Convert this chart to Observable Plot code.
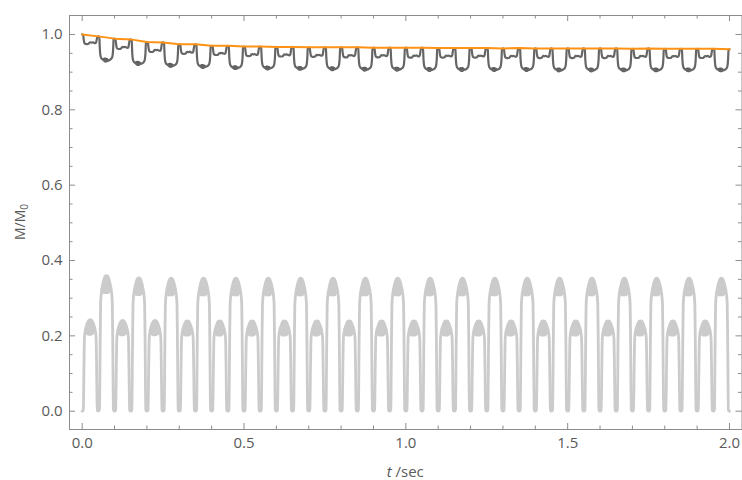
<!DOCTYPE html>
<html><head><meta charset="utf-8">
<script src="https://cdn.jsdelivr.net/npm/d3@7"></script>
<script src="https://cdn.jsdelivr.net/npm/@observablehq/plot@0.6"></script>
<style>body{margin:0;background:#fff}</style>
</head><body><div id="chart"></div>
<script>
// ---------- data ----------
const periodStarts = [0.0,0.1,0.2,0.3,0.4,0.5,0.6,0.7,0.8,0.9,1.0,1.1,1.2,1.3,1.4,1.5,1.6,1.7,1.8,1.9];
const halfPeriod = 0.05;

// light grey pulses: peak heights per period
const shortPeak = [0.243,0.241,0.241,0.240,0.240,0.240,0.240,0.240,0.240,0.240,0.240,0.240,0.240,0.240,0.240,0.240,0.240,0.240,0.240,0.240];
const tallPeak  = [0.360,0.354,0.353,0.353,0.353,0.353,0.353,0.353,0.353,0.353,0.353,0.353,0.353,0.353,0.353,0.353,0.353,0.353,0.353,0.353];

// dark grey curve: dip levels per period
const shallowLevel = [0.975,0.962,0.954,0.949,0.946,0.943,0.942,0.941,0.940,0.940,0.939,0.939,0.939,0.938,0.938,0.938,0.938,0.938,0.938,0.938];
const deepLevel    = [0.930,0.921,0.916,0.913,0.910,0.909,0.908,0.907,0.906,0.906,0.905,0.905,0.905,0.905,0.904,0.904,0.904,0.904,0.904,0.904];

// orange envelope
const envT = [0.00,0.05,0.10,0.15,0.20,0.25,0.30,0.35,0.40,0.45,0.50,0.55,0.60,0.65,0.70,0.75,0.80,0.85,0.90,0.95,1.00,
              1.05,1.10,1.15,1.20,1.25,1.30,1.35,1.40,1.45,1.50,1.55,1.60,1.65,1.70,1.75,1.80,1.85,1.90,1.95,2.00];
const envM = [1.000,0.995,0.989,0.987,0.980,0.979,0.974,0.974,0.970,0.970,0.968,0.968,0.967,0.967,0.966,0.966,0.966,0.966,0.965,0.965,0.965,
              0.965,0.964,0.964,0.964,0.964,0.963,0.964,0.963,0.963,0.963,0.963,0.963,0.963,0.962,0.963,0.962,0.962,0.962,0.962,0.961];

// pulse profile (fraction of half period, fraction of peak)
const pulseShape = [[0,0],[0.07,0.01],[0.11,0.5],[0.14,0.8],[0.19,0.88],[0.26,0.93],[0.34,0.97],[0.42,0.995],[0.5,1],
                    [0.58,0.995],[0.66,0.97],[0.74,0.93],[0.81,0.88],[0.86,0.8],[0.89,0.5],[0.93,0.01],[1,0]];
// noisy caps on the pulses: [fraction, low, high]
const shortCap = [[0.18,0.86,0.87],[0.23,0.84,0.91],[0.30,0.83,0.955],[0.40,0.82,0.99],[0.5,0.82,1.0],[0.60,0.82,0.99],[0.70,0.83,0.955],[0.77,0.84,0.91],[0.82,0.86,0.87]];
const tallCap  = [[0.18,0.87,0.87],[0.23,0.875,0.91],[0.30,0.865,0.955],[0.40,0.86,0.99],[0.5,0.86,1.0],[0.60,0.86,0.99],[0.70,0.865,0.955],[0.77,0.875,0.91],[0.82,0.87,0.87]];

// dark dips profile (fraction of half period, fraction of depth)
const shallowShape = [[0,0],[0.06,0.05],[0.10,0.6],[0.14,0.92],[0.20,1.0],[0.30,1.02],[0.40,0.98],[0.45,0.85],[0.5,0.8],[0.58,0.83],
                      [0.65,0.79],[0.72,0.85],[0.80,0.9],[0.86,0.8],[0.90,0.4],[0.94,0.05],[1,0]];
const deepShape = [[0,0],[0.06,0.05],[0.09,0.5],[0.12,0.75],[0.16,0.86],[0.22,0.92],[0.30,0.96],[0.40,0.99],[0.5,1],
                   [0.60,0.99],[0.70,0.96],[0.78,0.92],[0.84,0.86],[0.88,0.75],[0.91,0.5],[0.94,0.05],[1,0]];
const deepCap = [[0.26,0.94,0.94],[0.34,1.04,0.9],[0.42,1.09,0.88],[0.52,1.1,0.88],[0.60,1.07,0.9],[0.68,0.96,0.95]];

// axes
const xTicks = [0, 0.5, 1, 1.5, 2];
const xTickLabels = ["0.0","0.5","1.0","1.5","2.0"];
const xMinor = [0.1,0.2,0.3,0.4,0.6,0.7,0.8,0.9,1.1,1.2,1.3,1.4,1.6,1.7,1.8,1.9];
const yTicks = [0, 0.2, 0.4, 0.6, 0.8, 1.0];
const yTickLabels = ["0.0","0.2","0.4","0.6","0.8","1.0"];
const yMinor = [0.05,0.1,0.15,0.25,0.3,0.35,0.45,0.5,0.55,0.65,0.7,0.75,0.85,0.9,0.95];

// ---------- build tables ----------
const light = [], lightCaps = [], dark = [], darkCaps = [];
periodStarts.forEach((t0, k) => {
  const pulses = [[t0, shortPeak[k], shortCap, "s"], [t0 + halfPeriod, tallPeak[k], tallCap, "t"]];
  pulses.forEach(([s, A, cap, tag]) => {
    pulseShape.forEach(([f, v]) => light.push({t: s + f * halfPeriod, m: A * v}));
    cap.forEach(([f, lo, hi]) => lightCaps.push({id: tag + k, t: s + f * halfPeriod, lo: A * lo, hi: A * hi}));
  });
  const p0 = envM[2 * k], p1 = envM[2 * k + 1], p2 = envM[2 * k + 2];
  shallowShape.forEach(([f, d]) => {
    const base = f < 0.5 ? p0 : p1;
    dark.push({t: t0 + f * halfPeriod, m: base - d * (base - shallowLevel[k])});
  });
  deepShape.forEach(([f, d]) => {
    const base = f < 0.5 ? p1 : p2;
    dark.push({t: t0 + halfPeriod + f * halfPeriod, m: base - d * (base - deepLevel[k])});
  });
  deepCap.forEach(([f, lo, hi]) => {
    const base = f < 0.5 ? p1 : p2;
    darkCaps.push({id: "d" + k, t: t0 + halfPeriod + f * halfPeriod,
                   lo: base - lo * (base - deepLevel[k]), hi: base - hi * (base - deepLevel[k])});
  });
});
const envelope = envT.map((t, i) => ({t, m: envM[i]}));

const W = 742, H = 480, mL = 69, mR = 0.5, mT = 15, mB = 51;
const innerW = W - mL - mR, innerH = H - mT - mB;
const frameColor = "#8c8c8c";
const labelColor = "#5a5a5a";
const majorLen = 6, minorLen = 3.5;

const svg = Plot.plot({
  width: W, height: H,
  marginLeft: mL, marginRight: mR, marginTop: mT, marginBottom: mB,
  x: {domain: [-0.0392, 2.0386]},
  y: {domain: [-0.0486, 1.0504]},
  style: {fontFamily: "'Open Sans', 'DejaVu Sans', sans-serif", fontSize: "15px", color: labelColor, background: "#fff"},
  marks: [
    Plot.areaY(lightCaps, {x: "t", y1: "lo", y2: "hi", z: "id", fill: "#cbcbcb", curve: "catmull-rom"}),
    Plot.line(light, {x: "t", y: "m", stroke: "#cbcbcb", strokeWidth: 2.8, curve: "monotone-x"}),
    Plot.areaY(darkCaps, {x: "t", y1: "lo", y2: "hi", z: "id", fill: "#5e5e5e", curve: "catmull-rom"}),
    Plot.line(dark, {x: "t", y: "m", stroke: "#666", strokeWidth: 2.2, curve: "monotone-x"}),
    Plot.line(envelope, {x: "t", y: "m", stroke: "#ff9214", strokeWidth: 2}),
    Plot.frame({stroke: frameColor}),
    // inward ticks, all four sides
    Plot.tickX(xTicks, {x: d => d, insetTop: innerH - majorLen, stroke: frameColor}),
    Plot.tickX(xTicks, {x: d => d, insetBottom: innerH - majorLen, stroke: frameColor}),
    Plot.tickX(xMinor, {x: d => d, insetTop: innerH - minorLen, stroke: frameColor}),
    Plot.tickX(xMinor, {x: d => d, insetBottom: innerH - minorLen, stroke: frameColor}),
    Plot.tickY(yTicks, {y: d => d, insetRight: innerW - majorLen, stroke: frameColor}),
    Plot.tickY(yTicks, {y: d => d, insetLeft: innerW - majorLen, stroke: frameColor}),
    Plot.tickY(yMinor, {y: d => d, insetRight: innerW - minorLen, stroke: frameColor}),
    Plot.tickY(yMinor, {y: d => d, insetLeft: innerW - minorLen, stroke: frameColor}),
    Plot.axisX(xTicks, {tickSize: 0, tickPadding: 8, tickFormat: d => xTickLabels[xTicks.indexOf(d)], label: null, fill: labelColor}),
    Plot.axisY(yTicks, {tickSize: 0, tickPadding: 7, tickFormat: d => yTickLabels[yTicks.indexOf(d)], label: null, fill: labelColor})
  ]
});

const s = d3.select(svg);
const xl = s.append("text")
  .attr("x", mL + innerW / 2).attr("y", 477)
  .attr("text-anchor", "middle")
  .attr("fill", labelColor)
  .style("font-family", "'Open Sans', 'DejaVu Sans', sans-serif").style("font-size", "15px");
xl.append("tspan").attr("font-style", "italic").text("t");
xl.append("tspan").text(" /sec");

const yl = s.append("text")
  .attr("transform", `translate(25, ${mT + innerH / 2}) rotate(-90)`)
  .attr("text-anchor", "middle")
  .attr("fill", labelColor)
  .style("font-family", "'Open Sans', 'DejaVu Sans', sans-serif").style("font-size", "14px");
yl.append("tspan").text("M/M");
yl.append("tspan").attr("font-size", "10px").attr("dy", "3").text("0");

document.getElementById("chart").appendChild(svg);
</script>
</body></html>
